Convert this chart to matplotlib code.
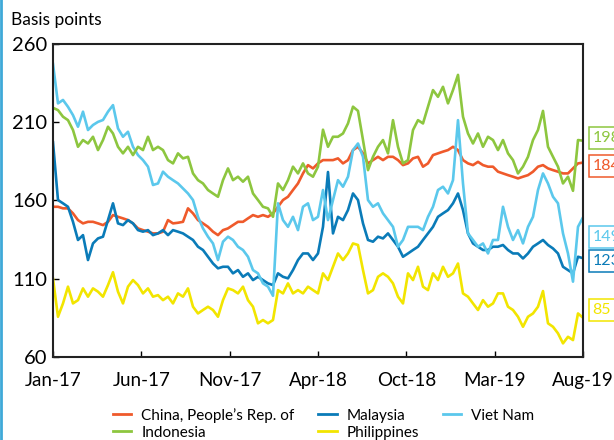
import matplotlib
matplotlib.use('Agg')
import matplotlib.pyplot as plt
from matplotlib.lines import Line2D
import numpy as np

plt.rcParams['font.family'] = ['Lato', 'DejaVu Sans']

tick_labels = ['Jan-17', 'Jun-17', 'Nov-17', 'Apr-18', 'Oct-18', 'Mar-19', 'Aug-19']

china = [155.8, 155.8, 154.8, 154.8, 151.6, 147.3, 145.2, 146.2, 146.2, 145.2, 144.1, 146.2, 150.5, 149.4, 148.4, 147.3, 145.2, 142.0,
         140.9, 139.9, 138.8, 138.8, 139.9, 147.3, 145.2, 145.6, 146.2, 154.8, 151.6, 147.3, 145.2, 143.0, 139.9, 137.7, 140.9, 142.0,
         144.1, 146.2, 146.2, 148.4, 150.5, 149.4, 150.5, 149.4, 151.6, 155.8, 160.1, 162.2, 166.5, 170.7, 177.1, 182.4, 180.3,
         183.5, 185.6, 185.6, 185.6, 186.7, 183.5, 185.6, 192.0, 194.1, 189.9, 183.5, 185.6, 187.7, 185.6, 187.7, 187.7, 185.6, 182.4,
         183.5, 186.7, 187.7, 181.4, 183.5, 188.8, 189.9, 191.0, 192.0, 194.1, 192.0, 185.6, 183.5, 182.4, 184.5, 182.4, 181.4, 181.4,
         178.2, 177.1, 176.0, 175.0, 173.9, 175.0, 176.0, 178.2, 181.4, 182.4, 180.3, 179.2, 178.2, 177.1, 177.1, 180.3, 183.5, 184.0]

indonesia = [219.0, 217.5, 213.3, 211.1, 204.8, 194.1, 198.4, 196.2, 200.5, 192.0, 198.4, 206.9, 202.6, 194.1, 189.9, 194.1, 188.8, 194.1,
             192.0, 200.5, 192.0, 194.1, 192.0, 185.6, 183.5, 189.9, 186.7, 187.7, 177.1, 172.8, 170.7, 166.5, 164.3, 162.2, 172.8, 180.3,
             172.8, 175.0, 171.8, 175.0, 164.3, 160.1, 155.8, 154.8, 149.4, 170.7, 166.5, 172.8, 181.4, 177.1, 183.5, 177.1, 175.0,
             181.4, 205.0, 194.1, 200.5, 200.5, 202.6, 209.0, 219.7, 217.0, 198.4, 179.2, 187.7, 194.1, 198.4, 189.9, 211.1, 194.1, 183.5,
             185.6, 204.8, 211.1, 209.0, 219.7, 230.3, 226.0, 232.4, 221.8, 230.3, 240.0, 213.3, 202.6, 196.2, 202.6, 194.1, 200.5, 198.4,
             192.0, 198.4, 189.9, 185.6, 177.1, 181.4, 187.7, 198.4, 204.8, 217.0, 194.1, 187.7, 181.4, 170.7, 175.0, 166.0, 198.4, 198.0]

malaysia = [197.0, 160.1, 158.0, 155.8, 146.2, 134.6, 137.7, 121.8, 132.4, 135.6, 136.7, 147.3, 158.0, 145.2, 144.1, 147.3, 145.2, 140.9,
            139.9, 140.9, 137.7, 138.8, 140.9, 137.7, 140.9, 139.9, 138.8, 136.7, 134.6, 130.3, 128.2, 123.9, 119.6, 116.5, 117.5, 117.5,
            113.3, 115.4, 111.1, 113.3, 109.0, 111.1, 109.0, 106.9, 105.8, 113.3, 111.1, 110.1, 115.4, 121.8, 126.0, 126.0, 121.8,
            126.0, 143.0, 178.0, 138.8, 149.4, 147.3, 153.7, 164.3, 160.1, 145.2, 134.6, 133.5, 136.7, 135.6, 138.8, 134.6, 130.3, 123.9,
            126.0, 128.2, 130.3, 134.6, 138.8, 143.0, 149.4, 151.6, 153.7, 158.0, 164.3, 153.7, 138.8, 132.4, 130.3, 128.2, 128.2, 130.3,
            130.3, 131.4, 128.2, 126.0, 126.0, 122.8, 126.0, 130.3, 132.4, 134.6, 131.4, 129.2, 126.0, 117.5, 115.4, 113.3, 123.9, 123.0]

philippines = [110.0, 85.6, 94.1, 104.8, 94.1, 96.2, 103.7, 98.4, 103.7, 101.6, 98.4, 105.8, 114.0, 101.6, 94.1, 104.8, 109.0, 105.8,
               100.5, 103.7, 98.4, 99.4, 96.2, 98.4, 94.1, 100.5, 98.4, 103.7, 92.0, 87.7, 89.9, 92.0, 89.9, 85.6, 96.2, 103.7,
               102.6, 100.5, 104.8, 96.2, 92.0, 81.4, 83.5, 81.4, 83.5, 102.6, 100.5, 106.9, 100.5, 102.6, 100.5, 104.8, 102.6,
               100.5, 113.3, 109.0, 117.5, 126.0, 121.8, 126.0, 132.4, 131.4, 115.4, 100.5, 102.6, 111.1, 113.3, 111.1, 106.9, 98.4, 94.1,
               113.3, 109.0, 117.5, 104.8, 102.6, 113.3, 109.0, 117.5, 111.1, 113.3, 119.6, 100.5, 98.4, 94.1, 89.9, 96.2, 92.0, 94.1,
               100.5, 100.5, 92.0, 89.9, 85.6, 79.2, 85.6, 87.7, 92.0, 102.0, 81.4, 79.2, 75.0, 68.6, 72.8, 70.7, 87.7, 85.0]

viet_nam = [247.0, 221.8, 224.0, 219.6, 214.3, 206.9, 216.5, 204.8, 208.0, 210.0, 211.2, 216.5, 220.7, 205.8, 200.5, 203.7, 194.1, 188.8,
            185.6, 181.4, 169.7, 170.7, 178.2, 175.0, 172.8, 170.7, 167.5, 164.3, 160.1, 149.4, 142.0, 136.7, 132.4, 121.8, 133.5, 136.7,
            134.6, 130.3, 128.2, 123.9, 115.4, 113.3, 106.9, 104.8, 99.0, 158.0, 147.3, 143.0, 149.4, 140.9, 155.8, 158.0, 147.3,
            149.4, 166.5, 147.3, 160.1, 172.8, 168.6, 175.0, 192.0, 196.2, 187.7, 160.1, 155.8, 158.0, 151.6, 147.3, 143.0, 130.3, 134.6,
            143.0, 143.0, 143.0, 140.9, 149.4, 155.8, 166.5, 168.6, 164.3, 172.8, 211.1, 170.7, 138.8, 134.6, 130.3, 132.4, 126.0, 134.6,
            134.6, 155.8, 143.0, 134.6, 140.9, 132.4, 143.0, 149.4, 166.5, 177.1, 170.7, 162.2, 158.0, 138.8, 126.0, 108.0, 143.0, 149.0]

end_labels = ['198', '184', '149', '123', '85']
end_label_y = [199.5, 181.8, 136.8, 121.1, 90.0]

c_china = '#ef5a2b'
c_indo = '#8dc63f'
c_malay = '#0a7bb8'
c_phil = '#f2e500'
c_viet = '#5bc8ec'

x = np.linspace(0, 6, len(china))

fig = plt.figure(figsize=(6.14, 4.40), dpi=100)
ax = fig.add_axes([0.0863, 0.189, 0.8632, 0.712])

lw = 1.9
ax.plot(x, philippines, color=c_phil, lw=lw)
ax.plot(x, china, color=c_china, lw=lw)
ax.plot(x, malaysia, color=c_malay, lw=lw)
ax.plot(x, viet_nam, color=c_viet, lw=lw)
ax.plot(x, indonesia, color=c_indo, lw=lw)

ax.set_xlim(0, 6)
ax.set_ylim(60, 260)
ax.set_yticks([60, 110, 160, 210, 260])
ax.set_xticks(range(7))
ax.set_xticklabels(tick_labels)
ax.tick_params(direction='in', length=4, width=1, labelsize=13.5)
ax.tick_params(axis='x', pad=11)
ax.tick_params(axis='y', labelsize=14.5, pad=4)
for s in ax.spines.values():
    s.set_linewidth(1.5)
    s.set_color('#222222')

fig.text(0.018, 0.955, 'Basis points', fontsize=12.5, va='center', ha='left')

cols = [c_indo, c_china, c_viet, c_malay, c_phil]
for lab, yy, c in zip(end_labels, end_label_y, cols):
    ax.annotate(lab, xy=(1.0, yy), xycoords=('axes fraction', 'data'),
                xytext=(7, 0), textcoords='offset points', color=c, fontsize=11.5,
                va='center', ha='left', annotation_clip=False,
                bbox=dict(boxstyle='square,pad=0.25', fc='white', ec=c, lw=1.1))

handles = [Line2D([], [], color=c_china, lw=2), Line2D([], [], color=c_indo, lw=2),
           Line2D([], [], color=c_malay, lw=2), Line2D([], [], color=c_phil, lw=2),
           Line2D([], [], color=c_viet, lw=2)]
names = ['China, People\u2019s Rep. of', 'Indonesia', 'Malaysia', 'Philippines', 'Viet Nam']
fig.legend(handles, names, ncol=3, loc='center', bbox_to_anchor=(0.527, 0.037), frameon=False,
           fontsize=11, handlelength=1.2, handletextpad=0.65, columnspacing=1.55,
           labelspacing=0.2, borderaxespad=0, borderpad=0)

fig.add_artist(Line2D([0.002, 0.002], [0, 1], transform=fig.transFigure, color='#3fa9d8', lw=2))

fig.savefig('out.png', dpi=100)
